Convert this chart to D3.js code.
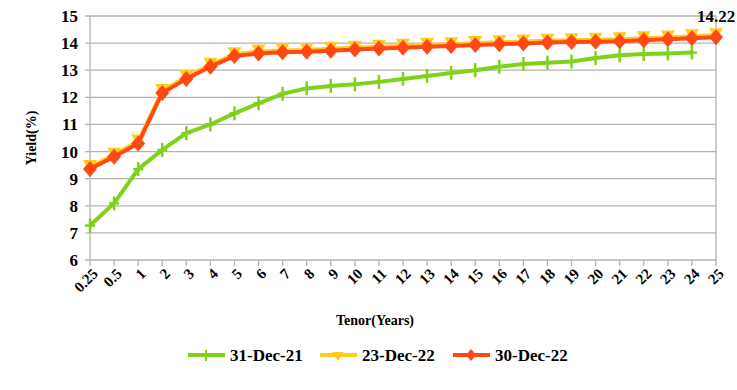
<!DOCTYPE html>
<html><head><meta charset="utf-8">
<script src="https://cdn.jsdelivr.net/npm/d3@7"></script>
<style>body{margin:0;background:#fff}svg{display:block}</style>
</head><body>
<svg id="c" width="737" height="390" font-family="'Liberation Serif', 'Times New Roman', 'DejaVu Serif', serif" font-weight="bold"></svg>
<script>
const tenors = ["0.25","0.5","1","2","3","4","5","6","7","8","9","10","11","12","13","14","15","16","17","18","19","20","21","22","23","24","25"];
const yTicks = [6,7,8,9,10,11,12,13,14,15];
const dec21 = [7.27,8.09,9.35,10.06,10.68,11.0,11.41,11.78,12.13,12.33,12.42,12.48,12.57,12.68,12.79,12.9,13.0,13.13,13.23,13.28,13.32,13.45,13.55,13.6,13.62,13.65,null];
const dec22a = [9.43,9.88,10.37,12.23,12.75,13.2,13.59,13.69,13.73,13.75,13.79,13.83,13.87,13.9,13.94,13.96,14.0,14.03,14.06,14.09,14.11,14.12,14.14,14.18,14.21,14.25,14.29];
const dec22b = [9.36,9.81,10.3,12.16,12.68,13.13,13.52,13.62,13.66,13.68,13.72,13.76,13.8,13.83,13.87,13.89,13.93,13.96,13.99,14.02,14.04,14.05,14.07,14.11,14.14,14.18,14.22];
const seriesNames = ["31-Dec-21","23-Dec-22","30-Dec-22"];
const colors = ["#7fd11b","#ffcc1c","#ff4814"];

(function(){
const svg = d3.select("#c");
const pLeft=90,pRight=716,pTop=16,pBottom=260;
const x = d3.scalePoint().domain(tenors).range([pLeft,pRight]);
const y = d3.scaleLinear().domain([6,15]).range([pBottom,pTop]);
const grid="#b3b3b3";

svg.append("g").selectAll("line").data(yTicks).join("line")
  .attr("x1",pLeft-5).attr("x2",pRight).attr("y1",d=>y(d)).attr("y2",d=>y(d))
  .attr("stroke",grid).attr("stroke-width",1.3);
[pLeft,pRight].forEach(xx=>svg.append("line").attr("x1",xx).attr("x2",xx).attr("y1",pTop).attr("y2",pBottom).attr("stroke",grid).attr("stroke-width",1.3));
svg.append("g").selectAll("line").data(tenors).join("line")
  .attr("x1",d=>x(d)).attr("x2",d=>x(d)).attr("y1",pBottom).attr("y2",pBottom+6)
  .attr("stroke",grid).attr("stroke-width",1.3);
svg.append("g").selectAll("text").data(yTicks).join("text")
  .attr("x",78).attr("y",d=>y(d)).attr("dy","0.35em").attr("text-anchor","end")
  .attr("font-size",17).text(d=>d);
svg.append("g").selectAll("text").data(tenors).join("text")
  .attr("transform",d=>`translate(${x(d)+5},${pBottom+11}) rotate(-45)`)
  .attr("text-anchor","end").attr("dy","0.35em")
  .attr("font-size",15).text(d=>d);
svg.append("text").attr("transform","translate(36,138) rotate(-90)").attr("text-anchor","middle")
  .attr("font-size",14).text("Yield(%)");
svg.append("text").attr("x",375).attr("y",325).attr("text-anchor","middle")
  .attr("font-size",14).text("Tenor(Years)");

const data = [dec21,dec22a,dec22b];
const line = d3.line().x(d=>x(d.t)).y(d=>y(d.v));
function pts(arr){return tenors.map((t,i)=>({t,v:arr[i]})).filter(d=>d.v!=null);}

function marker(g,k,cx,cy){
  if(k===0){
    g.append("line").attr("x1",cx).attr("x2",cx).attr("y1",cy-7).attr("y2",cy+7).attr("stroke",colors[0]).attr("stroke-width",2.5);
    g.append("line").attr("x1",cx-5).attr("x2",cx+5).attr("y1",cy).attr("y2",cy).attr("stroke",colors[0]).attr("stroke-width",2.5);
  } else if(k===1){
    g.append("path").attr("d",`M${cx-7},${cy-7}L${cx+7},${cy-7}L${cx},${cy+5}Z`).attr("fill",colors[1]);
  } else {
    g.append("path").attr("d",`M${cx},${cy-8}L${cx+7},${cy}L${cx},${cy+8}L${cx-7},${cy}Z`).attr("fill",colors[2]);
  }
}

data.forEach((arr,k)=>{
  const g = svg.append("g");
  g.append("path").datum(pts(arr)).attr("d",line).attr("fill","none")
    .attr("stroke",colors[k]).attr("stroke-width",4).attr("stroke-linejoin","round");
  pts(arr).forEach(d=>marker(g,k,x(d.t),y(d.v)));
});

svg.append("text").attr("x",x("25")).attr("y",y(dec22b[26])-15).attr("text-anchor","middle")
  .attr("font-size",17).text(dec22b[26].toFixed(2));

const lx=[188,320,453];
seriesNames.forEach((n,k)=>{
  const g=svg.append("g");
  g.append("line").attr("x1",lx[k]).attr("x2",lx[k]+37).attr("y1",355).attr("y2",355).attr("stroke",colors[k]).attr("stroke-width",4);
  const cx=lx[k]+18;
  if(k===0){g.append("line").attr("x1",cx).attr("x2",cx).attr("y1",350).attr("y2",361).attr("stroke",colors[0]).attr("stroke-width",2);}
  else if(k===1){g.append("path").attr("d",`M${cx-6},${352}L${cx+6},${352}L${cx},${361}Z`).attr("fill",colors[1]);}
  else {g.append("path").attr("d",`M${cx},${349}L${cx+5},${355}L${cx},${361}L${cx-5},${355}Z`).attr("fill",colors[2]);}
  g.append("text").attr("x",lx[k]+42).attr("y",355).attr("dy","0.35em").attr("font-size",17).text(n);
});
})();
</script>
</body></html>
